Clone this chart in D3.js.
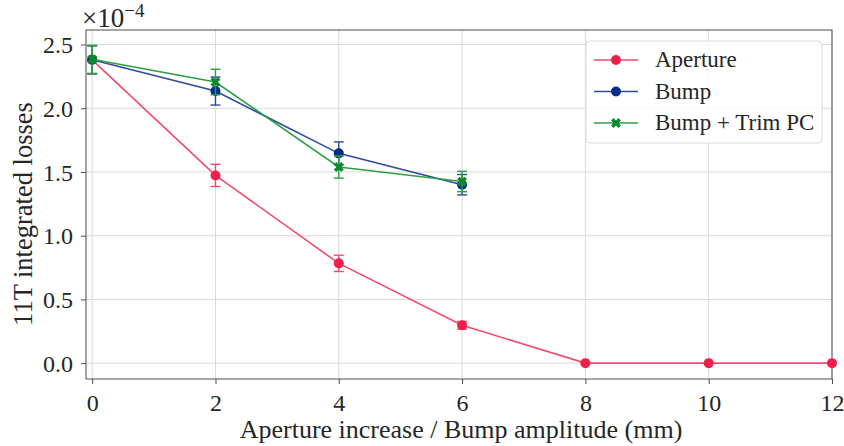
<!DOCTYPE html>
<html>
<head>
<meta charset="utf-8">
<style>
  body { margin: 0; background: #ffffff; }
  svg text { font-family: "Liberation Serif", "DejaVu Serif", serif; fill: #262626; }
  .grid line { stroke: #d9d9d9; stroke-width: 1; }
  .axis path, .axis line { stroke: #4d4d4d; }
</style>
</head>
<body>
<script src="https://cdnjs.cloudflare.com/ajax/libs/d3/7.8.5/d3.min.js"></script>
<script>
'use strict';
// values in units of 1e-4
const xAperture = [0, 2, 4, 6, 8, 10, 12];
const aperture = [2.38, 1.473, 0.783, 0.297, 0, 0, 0];
const apertureErr = [0.11, 0.087, 0.064, 0.03, 0, 0, 0];

const xBump = [0, 2, 4, 6];
const bump = [2.38, 2.135, 1.646, 1.40];
const bumpErr = [0.11, 0.11, 0.09, 0.08];

const trim = [2.384, 2.206, 1.539, 1.425];
const trimErr = [0.11, 0.10, 0.087, 0.08];

const xTicks = [0, 2, 4, 6, 8, 10, 12];
const yTicks = [0, 0.5, 1.0, 1.5, 2.0, 2.5];

const series = [
  {name: 'Aperture', xs: xAperture, ys: aperture, err: apertureErr, marker: '#ef1f4d', line: '#f24a6d', shape: 'circle'},
  {name: 'Bump', xs: xBump, ys: bump, err: bumpErr, marker: '#062c8c', line: '#2e4b9f', shape: 'circle'},
  {name: 'Bump + Trim PC', xs: xBump, ys: trim, err: trimErr, marker: '#0a8a2a', line: '#2ea043', shape: 'x'}
];

const W = 844, H = 446;
const pLeft = 86, pRight = 832, pTop = 30, pBottom = 379;

const x = d3.scaleLinear().domain([-0.1, 12]).range([pLeft, pRight]);
const y = d3.scaleLinear().domain([-0.1245, 2.614]).range([pBottom, pTop]);

const svg = d3.select('body').append('svg')
  .attr('width', W).attr('height', H);

// grid
const grid = svg.append('g').attr('class', 'grid');
grid.selectAll('.gx').data(xTicks).enter().append('line')
  .attr('x1', d => x(d)).attr('x2', d => x(d)).attr('y1', pTop).attr('y2', pBottom);
grid.selectAll('.gy').data(yTicks).enter().append('line')
  .attr('x1', pLeft).attr('x2', pRight).attr('y1', d => y(d)).attr('y2', d => y(d));

// frame
svg.append('rect')
  .attr('x', pLeft).attr('y', pTop).attr('width', pRight - pLeft).attr('height', pBottom - pTop)
  .attr('fill', 'none').attr('stroke', '#4d4d4d').attr('stroke-width', 1);

// axes
const xAxis = svg.append('g').attr('class', 'axis')
  .attr('transform', 'translate(0,' + pBottom + ')')
  .call(d3.axisBottom(x).tickValues(xTicks).tickSize(5).tickPadding(8).tickFormat(d3.format('d')));
const yAxis = svg.append('g').attr('class', 'axis')
  .attr('transform', 'translate(' + pLeft + ',0)')
  .call(d3.axisLeft(y).tickValues(yTicks).tickSize(5).tickPadding(8).tickFormat(d3.format('.1f')));
[xAxis, yAxis].forEach(a => {
  a.select('.domain').remove();
  a.attr('font-family', null);
  a.selectAll('text').style('font-size', '24px').attr('fill', '#262626');
});
xAxis.selectAll('text').attr('dy', '0.78em');
yAxis.selectAll('text').attr('dy', '0.34em');

// labels
svg.append('text')
  .attr('x', (pLeft + pRight) / 2 + 2).attr('y', 438)
  .attr('text-anchor', 'middle').style('font-size', '26px')
  .text('Aperture increase / Bump amplitude (mm)');
svg.append('text')
  .attr('transform', 'translate(32,' + 214 + ') rotate(-90)')
  .attr('text-anchor', 'middle').style('font-size', '26.5px')
  .text('11T integrated losses');
const mult = svg.append('text').attr('x', 82).attr('y', 27).style('font-size', '27px');
mult.append('tspan').text('\u00d710');
mult.append('tspan').attr('dy', -10).style('font-size', '19px').text('\u22124');

// series
const xSym = d3.symbol().type(d3.symbolCross).size(60);
series.forEach(s => {
  const pts = s.xs.map((xv, i) => ({x: xv, y: s.ys[i], e: s.err[i]}));
  const g = svg.append('g');
  g.append('path').datum(pts)
    .attr('fill', 'none').attr('stroke', s.line).attr('stroke-width', 1.6)
    .attr('d', d3.line().x(d => x(d.x)).y(d => y(d.y)));
  const eb = g.selectAll('.eb').data(pts.filter(d => d.e > 0)).enter().append('g')
    .attr('stroke', s.line).attr('stroke-width', 1.4);
  eb.append('line').attr('x1', d => x(d.x)).attr('x2', d => x(d.x))
    .attr('y1', d => y(d.y - d.e)).attr('y2', d => y(d.y + d.e));
  eb.append('line').attr('x1', d => x(d.x) - 5).attr('x2', d => x(d.x) + 5)
    .attr('y1', d => y(d.y - d.e)).attr('y2', d => y(d.y - d.e));
  eb.append('line').attr('x1', d => x(d.x) - 5).attr('x2', d => x(d.x) + 5)
    .attr('y1', d => y(d.y + d.e)).attr('y2', d => y(d.y + d.e));
  if (s.shape === 'circle') {
    g.selectAll('.m').data(pts).enter().append('circle')
      .attr('cx', d => x(d.x)).attr('cy', d => y(d.y)).attr('r', 5).attr('fill', s.marker);
  } else {
    g.selectAll('.m').data(pts).enter().append('path')
      .attr('d', xSym)
      .attr('transform', d => 'translate(' + x(d.x) + ',' + y(d.y) + ') rotate(45)')
      .attr('fill', s.marker);
  }
});

// legend
const lg = svg.append('g');
lg.append('rect').attr('x', 586).attr('y', 41).attr('width', 236).attr('height', 102)
  .attr('rx', 4).attr('fill', 'rgba(255,255,255,0.8)').attr('stroke', '#dcdcdc');
series.forEach((s, i) => {
  const cy = 60 + i * 31.5;
  lg.append('line').attr('x1', 594).attr('x2', 638).attr('y1', cy).attr('y2', cy)
    .attr('stroke', s.line).attr('stroke-width', 1.6);
  if (s.shape === 'circle') {
    lg.append('circle').attr('cx', 616).attr('cy', cy).attr('r', 5).attr('fill', s.marker);
  } else {
    lg.append('path').attr('d', xSym).attr('transform', 'translate(616,' + cy + ') rotate(45)').attr('fill', s.marker);
  }
  lg.append('text').attr('x', 655).attr('y', cy + 7).style('font-size', '23px').text(s.name);
});
</script>
</body>
</html>
